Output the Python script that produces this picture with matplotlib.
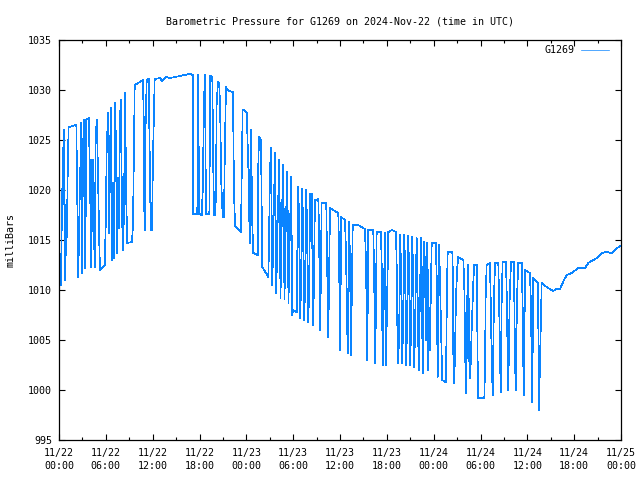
import matplotlib
matplotlib.use("Agg")
import matplotlib.pyplot as plt
from matplotlib.ticker import MultipleLocator

# hours since 11/22 00:00 UTC, pressure in mb
hours = [
    0.13, 0.26, 0.29, 0.38, 0.51, 0.64, 0.73, 0.81, 0.94, 1.06, 1.15, 1.24,
    2.22, 2.34, 2.47, 2.65, 2.78, 2.86, 2.95, 3.07, 3.16, 3.29, 3.37, 3.50,
    3.80, 3.93, 4.06, 4.14, 4.27, 4.39, 4.48, 4.57, 4.70, 4.83, 4.91, 5.03,
    5.16, 5.25, 5.85, 5.98, 6.11, 6.28, 6.41, 6.50, 6.62, 6.79, 6.92, 7.05,
    7.21, 7.47, 7.60, 7.69, 7.78, 7.90, 8.11, 8.24, 8.37, 8.46, 8.62, 8.75,
    9.35, 9.44, 9.52, 9.65, 9.70, 10.76, 10.85, 10.89, 10.98, 11.11, 11.24,
    11.49, 11.62, 11.75, 11.91, 12.04, 12.26, 12.94, 13.20, 13.71, 14.22,
    15.50, 16.01, 16.78, 17.17,
    17.21, 17.72, 17.81, 17.97, 18.28, 18.41, 18.58, 18.70, 18.77, 18.83,
    19.26, 19.32, 19.38, 19.64, 19.69, 19.77, 19.86, 20.02, 20.11, 20.20,
    20.37, 20.54, 20.66, 20.79, 20.97, 21.14, 21.23, 21.39, 21.56, 22.25,
    22.33, 22.42, 22.55, 23.10, 23.32, 23.41, 23.53, 23.70, 24.05, 24.30,
    24.43, 24.56, 24.69, 24.76, 24.89, 25.46, 25.53, 25.62, 25.88, 25.97,
    26.04, 26.81, 26.88, 27.03,
    27.16, 27.25, 27.33, 27.46, 27.68, 27.77, 27.84, 27.97, 28.22, 28.31,
    28.38, 28.48, 28.73, 28.82, 28.89, 28.99, 29.25, 29.34, 29.40, 29.51,
    29.76, 29.82, 29.89, 29.98, 30.45, 30.58, 30.66,
    30.75, 30.91, 31.00, 31.17, 31.26, 31.42, 31.51, 31.68, 31.77, 31.94,
    32.03, 32.19, 32.28, 32.37, 32.58, 32.79, 33.22, 33.31, 33.47, 33.65,
    34.24, 34.30, 34.50, 34.72, 35.78, 35.87, 35.96, 36.04, 36.13, 36.64,
    36.77, 36.90, 36.99, 37.15, 37.28, 37.41, 37.63, 38.30, 39.20, 39.33,
    39.50, 39.62, 40.26, 40.35, 40.52, 40.70, 41.25, 41.34, 41.47, 41.67,
    41.76, 41.89, 42.19, 42.66, 43.17, 43.26, 43.34, 43.47,
    43.59, 43.72, 43.81, 43.98, 44.07, 44.24, 44.33, 44.49, 44.58, 44.75,
    44.84, 45.01, 45.09, 45.26, 45.35, 45.52, 45.61, 45.82, 45.90, 46.08,
    46.16, 46.38, 46.47, 46.59, 46.67, 46.80, 46.89, 47.02, 47.11, 47.23,
    47.31, 47.40, 47.53, 47.62, 47.75, 48.26, 48.39, 48.51, 48.68, 48.81,
    48.94, 49.10, 49.54, 49.62, 49.71, 49.80, 50.39, 50.48, 50.51, 50.64,
    50.73, 50.86, 51.03, 51.15, 51.80, 51.92, 52.05, 52.18, 52.31, 52.44,
    52.56, 52.69, 52.87, 53.08, 53.20, 53.51, 53.55, 53.64, 53.72, 54.49,
    54.58, 54.66, 54.79, 55.21, 55.30, 55.43, 55.56, 55.73, 55.86, 56.28,
    56.37, 56.50, 56.59, 56.72, 56.84, 57.27, 57.36, 57.48, 57.56, 57.74,
    57.91, 58.25, 58.33, 58.42, 58.51, 58.68, 58.84, 59.28, 59.40, 59.48,
    59.57, 59.70, 60.34, 60.47, 60.56, 60.63, 60.76, 61.33, 61.40, 61.49,
    61.84, 62.48, 63.32, 63.67, 64.18, 64.70, 65.04, 65.68, 66.53, 67.39,
    67.81, 68.45, 68.92, 69.52, 70.16, 70.80, 71.36, 71.87,
]
pressure = [
    1010.5, 1010.5, 1013.0, 1018.2, 1023.3, 1026.0, 1011.0, 1018.5, 1013.5, 1018.5, 1023.7, 1026.3,
    1026.5, 1019.0, 1011.3, 1019.2, 1024.0, 1026.7, 1011.7, 1023.0, 1027.0, 1023.0, 1012.2, 1027.0,
    1027.2, 1023.0, 1016.0, 1012.3, 1023.0, 1023.0, 1016.0, 1012.3, 1025.0, 1027.0, 1025.0, 1019.8,
    1014.7, 1012.0, 1012.5, 1016.3, 1024.0, 1027.7, 1015.7, 1020.3, 1028.2, 1013.0, 1020.7, 1013.2,
    1028.7, 1013.7, 1021.2, 1016.2, 1026.0, 1029.0, 1016.3, 1014.0, 1021.5, 1029.7, 1018.8, 1014.7,
    1014.8, 1016.0, 1019.0, 1026.7, 1030.5, 1031.0, 1027.2, 1019.7, 1016.0, 1027.3, 1031.0,
    1031.1, 1023.5, 1016.0, 1016.0, 1023.3, 1031.1, 1031.2, 1030.9, 1031.3, 1031.2,
    1031.4, 1031.5, 1031.6, 1031.5,
    1017.6, 1017.6, 1031.5, 1017.6, 1017.5, 1019.8, 1029.0, 1031.5, 1024.5, 1017.6,
    1017.6, 1024.5, 1031.4, 1031.3, 1027.8, 1022.0, 1017.5, 1017.5, 1019.8, 1028.7,
    1030.8, 1030.7, 1027.3, 1020.7, 1017.3, 1017.3, 1023.0, 1030.3, 1030.0, 1029.8,
    1026.3, 1019.8, 1016.4, 1016.0, 1015.8, 1021.8, 1028.0, 1028.0, 1027.7, 1021.2,
    1014.7, 1026.0, 1021.0, 1016.7, 1013.7, 1013.5, 1022.3, 1025.3, 1025.0, 1018.0,
    1012.3, 1011.3, 1013.5, 1022.0,
    1024.2, 1016.7, 1010.5, 1016.0, 1023.7, 1016.0, 1009.7, 1015.5, 1023.0, 1015.5,
    1009.2, 1015.0, 1022.5, 1015.0, 1009.1, 1014.5, 1021.8, 1014.5, 1008.7, 1013.7,
    1021.3, 1013.7, 1007.5, 1008.0, 1007.8, 1017.2, 1020.3,
    1016.8, 1007.2, 1010.3, 1020.1, 1016.5, 1007.0, 1010.0, 1020.0, 1016.3, 1006.8,
    1009.8, 1019.6, 1016.0, 1019.6, 1006.5, 1019.0, 1019.1, 1016.0, 1006.0, 1018.7,
    1018.7, 1015.3, 1005.3, 1018.2, 1017.7, 1014.3, 1007.5, 1004.0, 1017.3, 1017.0,
    1013.7, 1007.2, 1003.7, 1016.8, 1013.3, 1003.5, 1016.5, 1016.5, 1016.1, 1012.7,
    1003.0, 1016.0, 1016.0, 1012.7, 1002.7, 1015.8, 1015.8, 1012.5, 1002.5, 1011.5,
    1015.7, 1002.5, 1015.8, 1016.0, 1015.8, 1012.5, 1006.7, 1002.7,
    1006.7, 1015.5, 1012.3, 1002.7, 1006.5, 1015.5, 1012.2, 1002.5, 1006.4, 1015.4,
    1012.1, 1002.5, 1006.3, 1015.3, 1012.0, 1002.3, 1006.2, 1015.2, 1012.0, 1002.0,
    1006.0, 1015.2, 1012.0, 1001.7, 1006.0, 1014.8, 1012.0, 1005.0, 1014.7, 1002.0,
    1012.0, 1005.0, 1004.0, 1009.0, 1014.7, 1014.7, 1011.3, 1001.3, 1014.5, 1011.3,
    1006.2, 1001.0, 1000.8, 1004.0, 1010.7, 1013.8, 1013.8, 1010.7, 1003.8, 1000.7,
    1003.7, 1009.3, 1012.3, 1013.3, 1013.0, 1010.7, 1003.0, 999.7, 1009.3, 1012.5,
    1003.0, 1001.2, 1006.0, 1010.8, 1012.5, 1012.5, 1009.2, 1002.5, 999.2, 999.2,
    1002.5, 1009.2, 1012.5, 1012.7, 1009.3, 1003.3, 999.5, 1009.3, 1012.7, 1012.7,
    1009.5, 1003.3, 999.8, 1009.5, 1012.8, 1012.8, 1009.5, 1003.3, 1000.0, 1009.3,
    1012.8, 1012.8, 1009.3, 1003.2, 1000.0, 1009.3, 1012.7, 1012.7, 1008.3, 1002.7,
    999.5, 1012.0, 1011.7, 1008.3, 1002.2, 998.8, 1011.2, 1010.7, 1007.3, 998.0,
    1010.7, 1010.3, 1009.9, 1010.1, 1010.1, 1011.0, 1011.5, 1011.7, 1012.2, 1012.2,
    1012.7, 1013.0, 1013.2, 1013.7, 1013.8, 1013.7, 1014.1, 1014.4,
]

tick_hours = list(range(0, 73, 6))
tick_labels = ["11/22\n00:00", "11/22\n06:00", "11/22\n12:00", "11/22\n18:00",
               "11/23\n00:00", "11/23\n06:00", "11/23\n12:00", "11/23\n18:00",
               "11/24\n00:00", "11/24\n06:00", "11/24\n12:00", "11/24\n18:00",
               "11/25\n00:00"]

plt.rcParams['font.family'] = 'DejaVu Sans Mono'
plt.rcParams['font.size'] = 7.2

fig = plt.figure(figsize=(6.4, 4.8), dpi=100)
ax = fig.add_axes([59 / 640, 40 / 480, 562 / 640, 400 / 480])

ax.plot(hours, pressure, color='#0a84ff', lw=0.5, antialiased=False, label='G1269')

ax.set_xlim(0, 72)
ax.set_ylim(995, 1035)
ax.set_xticks(tick_hours)
ax.set_xticklabels(tick_labels, linespacing=1.35)
ax.xaxis.set_minor_locator(MultipleLocator(3))
ax.set_yticks(range(995, 1036, 5))
ax.tick_params(which='both', direction='in', top=True, right=True, width=0.8)
ax.tick_params(which='major', length=4.5)
ax.tick_params(axis='x', which='major', pad=6)
ax.tick_params(axis='y', which='major', pad=5)
ax.tick_params(which='minor', length=2.5)
for s in ax.spines.values():
    s.set_linewidth(0.9)

ax.set_ylabel('milliBars', labelpad=9)
ax.set_title('Barometric Pressure for G1269 on 2024-Nov-22 (time in UTC)',
             fontsize=7.2, pad=11)

ax.legend(loc='upper right', bbox_to_anchor=(0.995, 1.01), frameon=False,
          markerfirst=False, handlelength=2.8, borderaxespad=0.55, handletextpad=0.6)

fig.savefig('out.png', dpi=100)
